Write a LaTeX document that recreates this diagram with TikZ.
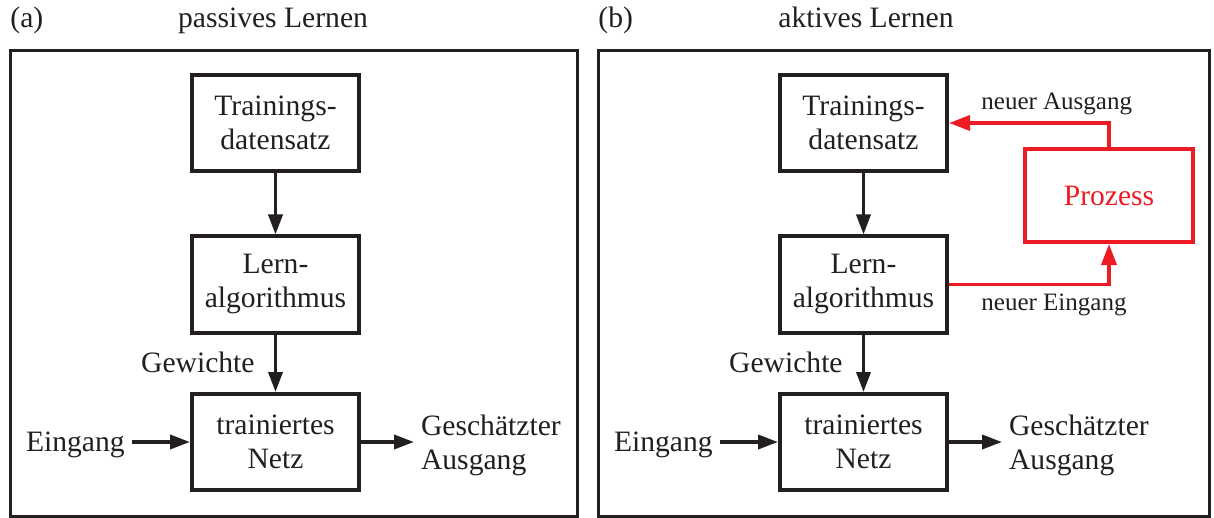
\documentclass[tikz,border=0pt]{standalone}
\usepackage{fontspec}
\setmainfont{Liberation Serif}
\usepackage{xcolor}
\usetikzlibrary{arrows.meta,positioning}
\definecolor{tinte}{RGB}{35,31,32}
\definecolor{prozessrot}{RGB}{237,28,36}
\tikzset{
  box/.style={rectangle, draw=tinte, line width=2pt, inner sep=0pt,
              minimum width=83.5pt, minimum height=48pt, align=center,
              text=tinte, font=\fontsize{14.8pt}{17pt}\selectfont},
  pbox/.style={rectangle, draw=prozessrot, line width=2pt, inner sep=0pt,
              minimum width=84pt, minimum height=46.5pt,
              text=prozessrot, font=\fontsize{14.8pt}{17pt}\selectfont},
  lbl/.style={text=tinte, font=\fontsize{14.8pt}{17pt}\selectfont},
  slbl/.style={text=tinte, font=\fontsize{12.5pt}{15pt}\selectfont, inner sep=0pt},
  frame/.style={draw=tinte, line width=1.5pt},
  ed/.style={-{Triangle[length=10pt,width=7pt]}, draw=tinte, line width=1.8pt},
  edr/.style={-{Triangle[length=10.5pt,width=7.5pt]}, draw=prozessrot, line width=1.8pt}
}
\begin{document}
\begin{tikzpicture}[x=0.5pt,y=-0.5pt]
\useasboundingbox (0,0) rectangle (1214,518);
\begin{scope}
\draw[frame] (10,51) rectangle (577,516);
\node[lbl, anchor=base west, inner sep=0pt] (Ka) at (10,28) {(a)};
\node[lbl, anchor=base, inner sep=0pt] (Ha) at (273,28) {passives Lernen};
\node[box] (T1) at (275.5,123)   {Trainings-\\datensatz};
\node[box] (L1) at (275.5,284.5) {Lern-\\algorithmus};
\node[box] (N1) at (275.5,442)   {trainiertes\\Netz};
\node[lbl, anchor=base east, inner sep=0pt] (G1) at (255,372) {Gewichte};
\node[lbl, anchor=base west] (E1) at (19,451) {Eingang};
\node[lbl, anchor=west, align=left] (A1) at (414,445) {Geschätzter\\Ausgang};
\draw[ed] (T1) -- (L1);
\draw[ed] (L1) -- (N1);
\draw[ed] (E1.east |- N1.west) -- (N1.west);
\draw[ed] (N1.east) -- (A1.west |- N1.east);
\end{scope}
\begin{scope}[xshift=294pt]
\draw[frame] (10,51) rectangle (621,516);
\node[lbl, anchor=base west, inner sep=0pt] (Kb) at (10,28) {(b)};
\node[lbl, anchor=base, inner sep=0pt] (Hb) at (278,28) {aktives Lernen};
\node[box] (T2) at (275.5,123)   {Trainings-\\datensatz};
\node[box] (L2) at (275.5,284.5) {Lern-\\algorithmus};
\node[box] (N2) at (275.5,442)   {trainiertes\\Netz};
\node[pbox] (P2) at (521,195.5)  {Prozess};
\node[lbl, anchor=base east, inner sep=0pt] (G2) at (255,372) {Gewichte};
\node[lbl, anchor=base west] (E2) at (19,451) {Eingang};
\node[lbl, anchor=west, align=left] (A2) at (414,445) {Geschätzter\\Ausgang};
\node[slbl, anchor=base west] (NA2) at (393,110) {neuer Ausgang};
\node[slbl, anchor=base west] (NE2) at (393,310) {neuer Eingang};
\draw[ed] (T2) -- (L2);
\draw[ed] (L2) -- (N2);
\draw[ed] (E2.east |- N2.west) -- (N2.west);
\draw[ed] (N2.east) -- (A2.west |- N2.east);
\draw[edr] (P2.north) |- (T2.east);
\draw[edr] (L2.east) -| (P2.south);
\end{scope}
\end{tikzpicture}
\end{document}
